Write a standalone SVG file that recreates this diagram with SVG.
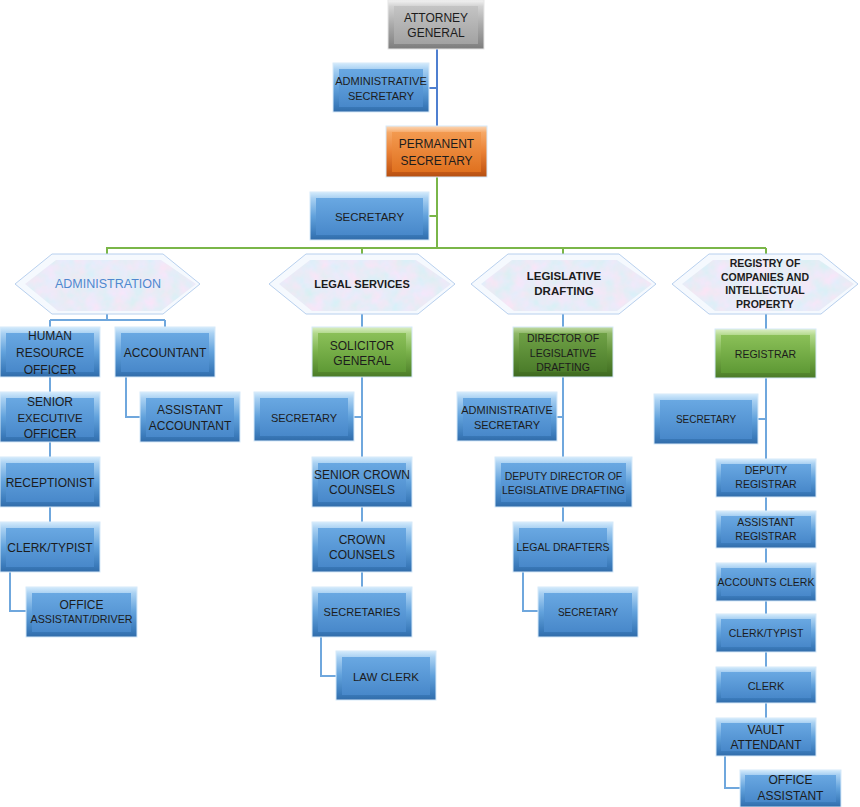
<svg xmlns="http://www.w3.org/2000/svg" width="860" height="807" viewBox="0 0 860 807">
<defs>
<linearGradient id="bO" x1="0" y1="0" x2="0" y2="1"><stop offset="0" stop-color="#d4ebfc"/><stop offset="0.13" stop-color="#a8d0f2"/><stop offset="0.5" stop-color="#62a2dc"/><stop offset="0.87" stop-color="#3b7bbb"/><stop offset="1" stop-color="#316ca9"/></linearGradient>
<linearGradient id="bI" x1="0" y1="0" x2="0" y2="1"><stop offset="0" stop-color="#69a8e2"/><stop offset="1" stop-color="#4888ca"/></linearGradient>
<linearGradient id="gO" x1="0" y1="0" x2="0" y2="1"><stop offset="0" stop-color="#dcefc6"/><stop offset="0.13" stop-color="#b1d88a"/><stop offset="0.5" stop-color="#7ab14b"/><stop offset="0.87" stop-color="#568a30"/><stop offset="1" stop-color="#4a7a28"/></linearGradient>
<linearGradient id="gI" x1="0" y1="0" x2="0" y2="1"><stop offset="0" stop-color="#8bc058"/><stop offset="1" stop-color="#5e9935"/></linearGradient>
<linearGradient id="dO" x1="0" y1="0" x2="0" y2="1"><stop offset="0" stop-color="#c2dca6"/><stop offset="0.13" stop-color="#8fb868"/><stop offset="0.5" stop-color="#62933a"/><stop offset="0.87" stop-color="#477526"/><stop offset="1" stop-color="#3d6821"/></linearGradient>
<linearGradient id="dI" x1="0" y1="0" x2="0" y2="1"><stop offset="0" stop-color="#6fa146"/><stop offset="1" stop-color="#4b7c2a"/></linearGradient>
<linearGradient id="oO" x1="0" y1="0" x2="0" y2="1"><stop offset="0" stop-color="#fcd8b8"/><stop offset="0.13" stop-color="#f6a866"/><stop offset="0.5" stop-color="#ea8236"/><stop offset="0.87" stop-color="#c95c18"/><stop offset="1" stop-color="#b34f12"/></linearGradient>
<linearGradient id="oI" x1="0" y1="0" x2="0" y2="1"><stop offset="0" stop-color="#f39a50"/><stop offset="1" stop-color="#e0711f"/></linearGradient>
<linearGradient id="rO" x1="0" y1="0" x2="0" y2="1"><stop offset="0" stop-color="#f4f4f4"/><stop offset="0.13" stop-color="#d2d2d2"/><stop offset="0.5" stop-color="#ababab"/><stop offset="0.87" stop-color="#8a8a8a"/><stop offset="1" stop-color="#7c7c7c"/></linearGradient>
<linearGradient id="rI" x1="0" y1="0" x2="0" y2="1"><stop offset="0" stop-color="#c4c4c4"/><stop offset="1" stop-color="#a2a2a2"/></linearGradient>
<filter id="tex" x="0" y="0" width="1" height="1">
<feTurbulence type="fractalNoise" baseFrequency="0.07" numOctaves="3" seed="5" result="n"/>
<feColorMatrix in="n" type="matrix" values="0.35 0 0 0 0.64  -0.12 0 0 0 0.89  0 0.12 0 0 0.87  0 0 0 0 1" result="c"/>
<feComposite in="c" in2="SourceGraphic" operator="in"/>
</filter>
<style>
.o{stroke:#d6e9f9;stroke-width:1}
.blue .o{fill:url(#bO)} .blue .i{fill:url(#bI)}
.green .o{fill:url(#gO)} .green .i{fill:url(#gI)}
.dgreen .o{fill:url(#dO)} .dgreen .i{fill:url(#dI)}
.orange .o{fill:url(#oO)} .orange .i{fill:url(#oI)}
.grey .o{fill:url(#rO);stroke:#e6e6e6} .grey .i{fill:url(#rI)}
text{font-family:"Liberation Sans",Arial,sans-serif;fill:#1c1c1c;text-anchor:middle}
.f12{font-size:12px}.f11{font-size:11px}.f105{font-size:10.5px}.f10{font-size:10px}
.ho{fill:#f5f9fe;stroke:#b8d0ee;stroke-width:1}
.hi{fill:#d0def3;filter:url(#tex)}
.hb{font-weight:bold}
.c{fill:none;stroke-width:2}
.cb{stroke:#4f7fd0}.cg{stroke:#7ab648}.cl{stroke:#6fa7dd}
</style>
</defs>

<g id="connectors">
<path class="c cb" d="M437 49V126M429 88H437"/>
<path class="c cg" d="M437 177V248M429 216H437M107 248H766M107 247V254M362 248V254M563 248V254M766 248V254"/>
<path class="c cl" d="M107 314V320M50 320H165M50 320V327M165 320V327M50 377V522M10 572V611H26M126 377V417H140"/>
<path class="c cl" d="M362 314V587M354 417H362M321 637V676H336"/>
<path class="c cl" d="M563 314V522M557 417H563M523 572V611H538"/>
<path class="c cl" d="M766 314V718M758 419H766M725 756V788H740"/>
</g>

<g id="hex-administration">
<polygon class="ho" points="15,284 52,254 163,254 200,284 163,314 52,314"/>
<polygon class="hi" points="25,284 56,260 161,260 196,284 161,311 58,311"/>
<text x="108" y="288" style="font-size:12.5px;fill:#4f88cf">ADMINISTRATION</text>
</g>
<g id="hex-legal">
<polygon class="ho" points="269,284 306,254 418,254 455,284 418,314 306,314"/>
<polygon class="hi" points="279,284 310,260 416,260 451,284 416,311 312,311"/>
<text class="f11 hb" x="362" y="288">LEGAL SERVICES</text>
</g>
<g id="hex-legislative">
<polygon class="ho" points="471,284 508,254 619,254 656,284 619,314 508,314"/>
<polygon class="hi" points="481,284 512,260 617,260 652,284 617,311 514,311"/>
<text class="hb" style="font-size:11.5px" x="564" y="280">LEGISLATIVE</text>
<text class="hb" style="font-size:11.5px" x="564" y="295">DRAFTING</text>
</g>
<g id="hex-registry">
<polygon class="ho" points="672,284 709,254 821,254 858,284 821,314 709,314"/>
<polygon class="hi" points="682,284 713,260 819,260 854,284 819,311 715,311"/>
<text class="f105 hb" x="765" y="267">REGISTRY OF</text>
<text class="f105 hb" x="765" y="280.5">COMPANIES AND</text>
<text class="f105 hb" x="765" y="294">INTELLECTUAL</text>
<text class="f105 hb" x="765" y="307.5">PROPERTY</text>
</g>

<g id="attorney-general" class="grey"><rect class="o" x="388" y="0" width="96" height="49"/><rect class="i" x="394" y="6" width="84" height="38"/>
<text class="f12" x="436" y="21.5">ATTORNEY</text><text class="f12" x="436" y="37">GENERAL</text></g>
<g id="admin-secretary-top" class="blue"><rect class="o" x="333" y="63" width="96" height="49"/><rect class="i" x="339" y="69" width="84" height="38"/>
<text class="f11" x="381" y="85">ADMINISTRATIVE</text><text class="f11" x="381" y="100">SECRETARY</text></g>
<g id="permanent-secretary" class="orange"><rect class="o" x="386" y="126" width="101" height="51"/><rect class="i" x="392" y="132" width="89" height="40"/>
<text class="f12" x="436.5" y="148">PERMANENT</text><text class="f12" x="436.5" y="165">SECRETARY</text></g>
<g id="secretary-ps" class="blue"><rect class="o" x="310" y="192" width="119" height="48"/><rect class="i" x="316" y="198" width="107" height="37"/>
<text class="f11" style="font-size:11.5px" x="369.5" y="220.5">SECRETARY</text></g>

<g id="hr-officer" class="blue"><rect class="o" x="0" y="327" width="100" height="50"/><rect class="i" x="6" y="333" width="88" height="39"/>
<text class="f12" x="50" y="340">HUMAN</text><text class="f12" x="50" y="357">RESOURCE</text><text class="f12" x="50" y="374">OFFICER</text></g>
<g id="accountant" class="blue"><rect class="o" x="115" y="327" width="100" height="50"/><rect class="i" x="121" y="333" width="88" height="39"/>
<text class="f12" x="165" y="356.5">ACCOUNTANT</text></g>
<g id="assistant-accountant" class="blue"><rect class="o" x="140" y="392" width="100" height="50"/><rect class="i" x="146" y="398" width="88" height="39"/>
<text class="f12" x="190" y="414">ASSISTANT</text><text class="f12" x="190" y="429.5">ACCOUNTANT</text></g>
<g id="senior-executive-officer" class="blue"><rect class="o" x="0" y="392" width="100" height="50"/><rect class="i" x="6" y="398" width="88" height="39"/>
<text class="f12" x="50" y="405.5">SENIOR</text><text class="f12" style="font-size:11.5px" x="50" y="421.5">EXECUTIVE</text><text class="f12" x="50" y="438">OFFICER</text></g>
<g id="receptionist" class="blue"><rect class="o" x="0" y="457" width="100" height="50"/><rect class="i" x="6" y="463" width="88" height="39"/>
<text class="f12" x="50" y="486.5">RECEPTIONIST</text></g>
<g id="clerk-typist-admin" class="blue"><rect class="o" x="0" y="522" width="100" height="50"/><rect class="i" x="6" y="528" width="88" height="39"/>
<text class="f12" x="50" y="551.5">CLERK/TYPIST</text></g>
<g id="office-assistant-driver" class="blue"><rect class="o" x="26" y="587" width="111" height="50"/><rect class="i" x="32" y="593" width="99" height="39"/>
<text class="f12" x="81.5" y="608.5">OFFICE</text><text class="f11" x="81.5" y="623" textLength="102" lengthAdjust="spacingAndGlyphs">ASSISTANT/DRIVER</text></g>

<g id="solicitor-general" class="green"><rect class="o" x="312" y="327" width="100" height="50"/><rect class="i" x="318" y="333" width="88" height="39"/>
<text class="f12" x="362" y="350">SOLICITOR</text><text class="f12" x="362" y="365">GENERAL</text></g>
<g id="secretary-legal" class="blue"><rect class="o" x="254" y="392" width="100" height="49"/><rect class="i" x="260" y="398" width="88" height="38"/>
<text class="f11" x="304" y="421.5">SECRETARY</text></g>
<g id="senior-crown-counsels" class="blue"><rect class="o" x="312" y="457" width="100" height="50"/><rect class="i" x="318" y="463" width="88" height="39"/>
<text class="f12" x="362" y="478.5">SENIOR CROWN</text><text class="f12" x="362" y="494">COUNSELS</text></g>
<g id="crown-counsels" class="blue"><rect class="o" x="312" y="522" width="100" height="50"/><rect class="i" x="318" y="528" width="88" height="39"/>
<text class="f12" x="362" y="543.5">CROWN</text><text class="f12" x="362" y="558.5">COUNSELS</text></g>
<g id="secretaries" class="blue"><rect class="o" x="312" y="587" width="100" height="50"/><rect class="i" x="318" y="593" width="88" height="39"/>
<text class="f11" x="362" y="616">SECRETARIES</text></g>
<g id="law-clerk" class="blue"><rect class="o" x="336" y="651" width="100" height="49"/><rect class="i" x="342" y="657" width="88" height="38"/>
<text class="f11" style="font-size:11.5px" x="386" y="680.5">LAW CLERK</text></g>

<g id="director-legislative-drafting" class="dgreen"><rect class="o" x="513" y="327" width="100" height="50"/><rect class="i" x="519" y="333" width="88" height="39"/>
<text class="f105" x="563" y="341.5">DIRECTOR OF</text><text class="f105" x="563" y="356.5">LEGISLATIVE</text><text class="f105" x="563" y="370.5">DRAFTING</text></g>
<g id="admin-secretary-legislative" class="blue"><rect class="o" x="457" y="392" width="100" height="49"/><rect class="i" x="463" y="398" width="88" height="38"/>
<text class="f11" x="507" y="414">ADMINISTRATIVE</text><text class="f11" x="507" y="428.5">SECRETARY</text></g>
<g id="deputy-director" class="blue"><rect class="o" x="495" y="457" width="137" height="50"/><rect class="i" x="501" y="463" width="125" height="39"/>
<text class="f105" x="563.5" y="479.5">DEPUTY DIRECTOR OF</text><text class="f105" x="563.5" y="493.5">LEGISLATIVE DRAFTING</text></g>
<g id="legal-drafters" class="blue"><rect class="o" x="513" y="522" width="100" height="50"/><rect class="i" x="519" y="528" width="88" height="39"/>
<text class="f105" x="563" y="551">LEGAL DRAFTERS</text></g>
<g id="secretary-legislative" class="blue"><rect class="o" x="538" y="587" width="100" height="50"/><rect class="i" x="544" y="593" width="88" height="39"/>
<text class="f10" x="588" y="616">SECRETARY</text></g>

<g id="registrar" class="green"><rect class="o" x="715" y="329" width="101" height="49"/><rect class="i" x="721" y="335" width="89" height="38"/>
<text class="f105" x="765.5" y="358">REGISTRAR</text></g>
<g id="secretary-registry" class="blue"><rect class="o" x="654" y="394" width="104" height="50"/><rect class="i" x="660" y="400" width="92" height="39"/>
<text class="f10" x="706" y="422.5">SECRETARY</text></g>
<g id="deputy-registrar" class="blue"><rect class="o" x="716" y="459" width="100" height="38"/><rect class="i" x="721" y="464" width="90" height="28"/>
<text class="f105" x="766" y="474">DEPUTY</text><text class="f105" x="766" y="488">REGISTRAR</text></g>
<g id="assistant-registrar" class="blue"><rect class="o" x="716" y="511" width="100" height="37"/><rect class="i" x="721" y="516" width="90" height="27"/>
<text class="f105" x="766" y="526">ASSISTANT</text><text class="f105" x="766" y="540">REGISTRAR</text></g>
<g id="accounts-clerk" class="blue"><rect class="o" x="716" y="563" width="100" height="38"/><rect class="i" x="721" y="568" width="90" height="28"/>
<text class="f105" x="766" y="586">ACCOUNTS CLERK</text></g>
<g id="clerk-typist-registry" class="blue"><rect class="o" x="716" y="614" width="100" height="38"/><rect class="i" x="721" y="619" width="90" height="28"/>
<text class="f105" x="766" y="637">CLERK/TYPIST</text></g>
<g id="clerk" class="blue"><rect class="o" x="716" y="667" width="100" height="36"/><rect class="i" x="721" y="672" width="90" height="26"/>
<text class="f11" x="766" y="689.5">CLERK</text></g>
<g id="vault-attendant" class="blue"><rect class="o" x="716" y="718" width="100" height="38"/><rect class="i" x="721" y="723" width="90" height="28"/>
<text class="f12" x="766" y="733.5">VAULT</text><text class="f12" x="766" y="749">ATTENDANT</text></g>
<g id="office-assistant" class="blue"><rect class="o" x="740" y="770" width="101" height="37"/><rect class="i" x="745" y="775" width="91" height="27"/>
<text class="f12" x="790.5" y="784">OFFICE</text><text class="f12" x="790.5" y="800">ASSISTANT</text></g>
</svg>
